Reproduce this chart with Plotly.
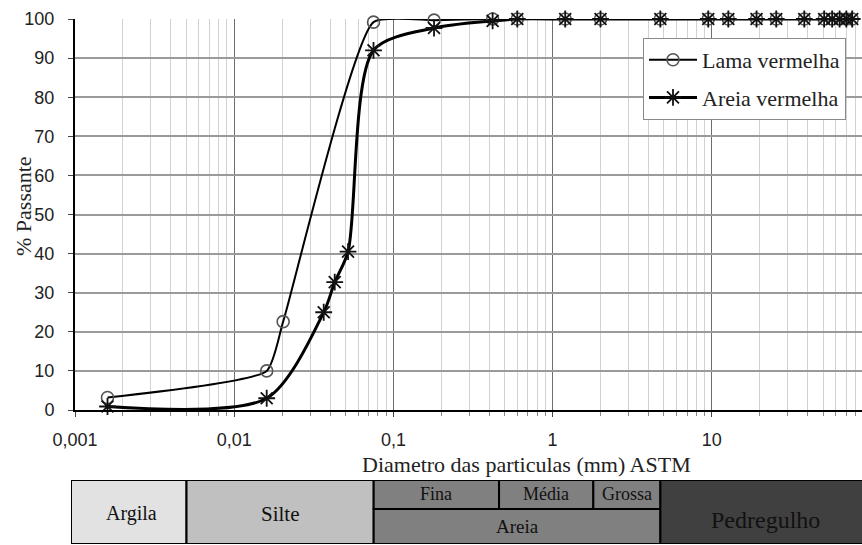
import math
import plotly.graph_objects as go

# Particle-size distribution (ASTM sieves + sedimentation), % passing
lama_diam = [0.0016, 0.016, 0.0203, 0.075, 0.18, 0.42, 0.6, 1.2, 2.0, 4.75,
             9.5, 12.7, 19.1, 25.4, 38.1, 50.8, 57.0, 63.5, 70.0, 76.2]
lama_pass = [3.2, 10.0, 22.6, 99.2, 99.7, 100, 100, 100, 100, 100,
             100, 100, 100, 100, 100, 100, 100, 100, 100, 100]

areia_diam = [0.0016, 0.016, 0.0365, 0.0428, 0.0519, 0.075, 0.18, 0.42, 0.6, 1.2,
              2.0, 4.75, 9.5, 12.7, 19.1, 25.4, 38.1, 50.8, 57.0, 63.5, 70.0, 76.2]
areia_pass = [0.9, 3.0, 25.0, 32.7, 40.5, 92.0, 97.7, 99.5, 100, 100,
              100, 100, 100, 100, 100, 100, 100, 100, 100, 100, 100, 100]

x_tickvals = [0.001, 0.01, 0.1, 1, 10]
x_ticktext = ["0,001", "0,01", "0,1", "1", "10"]
y_tickvals = [0, 10, 20, 30, 40, 50, 60, 70, 80, 90, 100]

# Soil classification strip (limits in mm)
class_bounds = [0.00094, 0.005, 0.075, 0.46, 1.8, 4.75, 100]

W, H = 862, 545
ML, MR, MT, MB = 71, 0, 19, 1
PW, PH = W - ML - MR, H - MT - MB
DEC = 159.2  # pixels per decade


def px(x):
    return (x - ML) / PW


def py(y):
    return (H - MB - y) / PH


SERIF = "Liberation Serif"
SANS = "Liberation Sans"

fig = go.Figure()

fig.add_trace(go.Scatter(
    x=lama_diam, y=lama_pass, name="Lama vermelha", mode="lines+markers",
    line=dict(color="black", width=2, shape="spline", smoothing=0.5),
    marker=dict(symbol="circle-open", size=12, color="#555",
                line=dict(width=1.6, color="#555")),
    cliponaxis=False, legendgroup="a",
))
fig.add_trace(go.Scatter(
    x=areia_diam, y=areia_pass, name="Areia vermelha", mode="lines+markers",
    line=dict(color="black", width=3, shape="spline", smoothing=0.8),
    marker=dict(symbol="asterisk-open", size=14, color="#111",
                line=dict(width=1.8, color="#111")),
    cliponaxis=False, legendgroup="b",
))

minor_vals = [m * 10 ** e for e in range(-3, 2) for m in range(2, 10)]

xr0 = -3
xr1 = -3 + (W - MR - (ML + 4)) / DEC

fig.update_layout(
    width=W, height=H,
    margin=dict(l=ML, r=MR, t=MT, b=MB, autoexpand=False),
    plot_bgcolor="white", paper_bgcolor="white",
    showlegend=True,
    legend=dict(x=px(643), y=py(38), xanchor="left", yanchor="top",
                bgcolor="white", bordercolor="#8a8a8a", borderwidth=1,
                font=dict(family=SERIF, size=22, color="#222"),
                traceorder="grouped", tracegroupgap=6, itemwidth=48),
    xaxis=dict(
        type="log", domain=[4 / PW, 1], range=[xr0, xr1], automargin=False,
        tickvals=x_tickvals, ticktext=x_ticktext,
        tickfont=dict(family=SANS, size=18, color="#222"),
        ticks="outside", ticklen=5, tickcolor="#444", ticklabelstandoff=7,
        showgrid=True, gridcolor="#6e6e6e", gridwidth=1,
        showline=True, linecolor="black", linewidth=2,
        minor=dict(tickvals=minor_vals, showgrid=True, gridcolor="#d2d2d2",
                   gridwidth=1, ticks="outside", ticklen=4, tickcolor="#888"),
        zeroline=False,
    ),
    yaxis=dict(
        domain=[py(410), 1], range=[0, 100], automargin=False,
        tickvals=y_tickvals,
        tickfont=dict(family=SANS, size=18, color="#222"),
        ticks="outside", ticklen=5, tickcolor="#444", ticklabelstandoff=10,
        showgrid=True, gridcolor="#9a9a9a", gridwidth=1.5,
        showline=True, linecolor="black", linewidth=2, zeroline=False,
    ),
    xaxis2=dict(type="log", domain=[0, 1], automargin=False,
                range=[math.log10(class_bounds[0]), xr1],
                visible=False, anchor="y2"),
    yaxis2=dict(domain=[0, py(480)], range=[0, 1], visible=False,
                automargin=False, anchor="x2"),
)

# Titles
fig.add_annotation(text="Diametro das particulas (mm) ASTM", xref="paper",
                   yref="paper", x=px(526), y=py(464), showarrow=False,
                   xanchor="center", yanchor="middle",
                   font=dict(family=SERIF, size=22, color="#222"))
fig.add_annotation(text="% Passante", xref="paper", yref="paper",
                   x=px(23), y=py(206), textangle=-90, showarrow=False,
                   xanchor="center", yanchor="middle",
                   font=dict(family=SERIF, size=22, color="#222"))

# Classification strip: (x0, x1, y0, y1, fill, label, size, label x-frac, label y)
split = 35 / 64
lg = [math.log10(v) for v in class_bounds]
cells = [
    (0, 1, 0, 1, "#e2e2e2", "Argila", 20, 0.52, 0.47),
    (1, 2, 0, 1, "#c0c0c0", "Silte", 21, 0.5, 0.47),
    (2, 3, split, 1, "#808080", "Fina", 18, 0.5, None),
    (3, 4, split, 1, "#808080", "Média", 18, 0.5, None),
    (4, 5, split, 1, "#808080", "Grossa", 18, 0.5, None),
    (2, 5, 0, split, "#808080", "Areia", 19, 0.5, None),
    (5, 6, 0, 1, "#404040", "Pedregulho", 24, 0.52, 0.375),
]
for i0, i1, y0, y1, col, label, fs, tx, ty in cells:
    fig.add_shape(type="rect", xref="x2", yref="y2",
                  x0=class_bounds[i0], x1=class_bounds[i1], y0=y0, y1=y1,
                  fillcolor=col, line=dict(color="black", width=2),
                  layer="below")
    right = min(lg[i1], xr1)
    lx = lg[i0] + tx * (right - lg[i0])
    fig.add_annotation(text=label, xref="x2", yref="y2", x=lx,
                       y=(y0 + y1) / 2 if ty is None else ty, showarrow=False,
                       xanchor="center", yanchor="middle",
                       font=dict(family=SERIF, size=fs, color="#111"))

fig.write_html("out.html")
